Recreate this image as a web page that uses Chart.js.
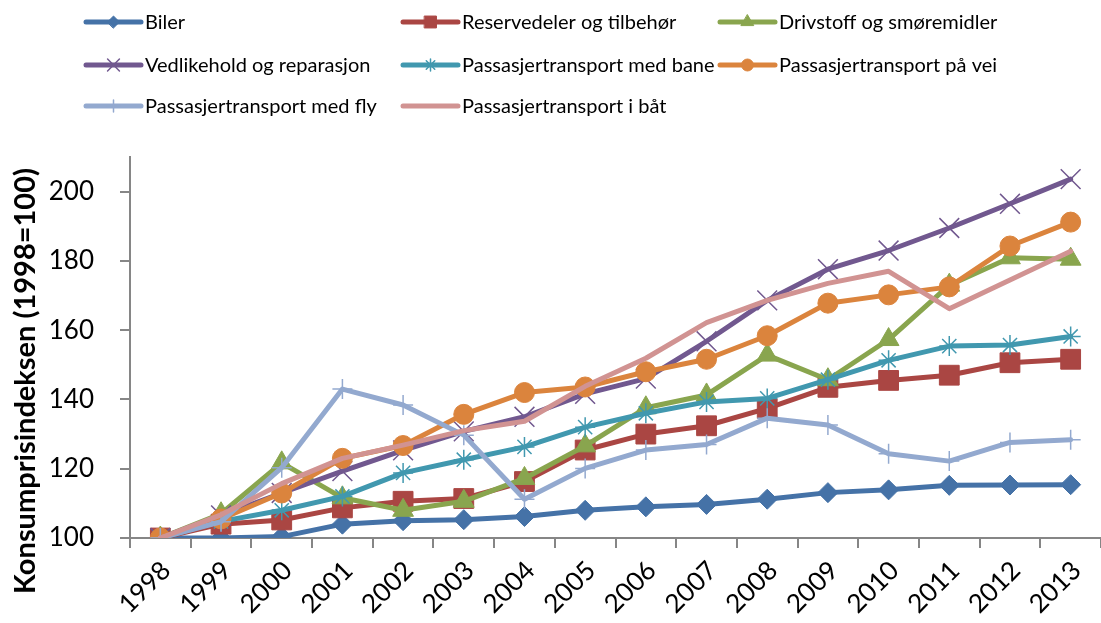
<!DOCTYPE html>
<html>
<head>
<meta charset="utf-8">
<script src="https://cdn.jsdelivr.net/npm/chart.js@4.4.1/dist/chart.umd.min.js"></script>
<style>
  html, body { margin: 0; padding: 0; background: #fff; }
  #wrap { width: 1101px; height: 623px; position: relative; overflow: hidden; }
</style>
</head>
<body>
<div id="wrap"><canvas id="kpiChart" width="1101" height="623"></canvas></div>
<script>
// Categories (years)
const years = ["1998", "1999", "2000", "2001", "2002", "2003", "2004", "2005",
               "2006", "2007", "2008", "2009", "2010", "2011", "2012", "2013"];

// Series values (consumer price index, 1998 = 100)
const biler        = [100, 100, 100.4, 104, 105, 105.3, 106.2, 108, 109, 109.7, 111.2, 113.1, 113.9, 115.2, 115.3, 115.4];
const reservedeler = [100, 104, 105.2, 108.7, 110.6, 111.4, 116.3, 125.4, 130, 132.4, 137.4, 143.5, 145.5, 147, 150.6, 151.6];
const drivstoff    = [100, 107, 121.7, 111.6, 108, 110.6, 117.2, 126.6, 137.6, 141.3, 152.8, 145.7, 157.3, 173, 180.9, 180.5];
const vedlikehold  = [100, 106.5, 113, 119.3, 125.3, 130.8, 135, 141.6, 146, 156.8, 168.6, 177.6, 183, 189.5, 196.5, 203.6];
const bane         = [100, 104.8, 108, 112, 118.8, 122.6, 126.3, 132, 136, 139.3, 140.3, 145.7, 151.3, 155.4, 155.7, 158.2];
const vei          = [100, 105.5, 113, 123, 126.7, 135.7, 142, 143.6, 148, 151.6, 158.4, 167.8, 170.2, 172.5, 184.3, 191.2];
const fly          = [100, 104.7, 120.3, 143, 138.4, 129.7, 111.2, 120.1, 125.4, 127, 134.6, 132.6, 124.3, 122.2, 127.6, 128.4];
const baat         = [100, 106.7, 115.7, 123, 126.8, 131, 133.7, 143.8, 151.9, 162.2, 168.6, 173.5, 177, 166.2, 174.5, 182.8];

const seriesNames = ["Biler", "Reservedeler og tilbehør", "Drivstoff og smøremidler",
  "Vedlikehold og reparasjon", "Passasjertransport med bane", "Passasjertransport på vei",
  "Passasjertransport med fly", "Passasjertransport i båt"];
const seriesData = [biler, reservedeler, drivstoff, vedlikehold, bane, vei, fly, baat];

const yTicks = [100, 120, 140, 160, 180, 200];
const yTitle = "Konsumprisindeksen (1998=100)";

// Styles
const colors  = ["#4572A7", "#AA4643", "#89A54E", "#71588F", "#4198AF", "#DB843D", "#93A9CF", "#D19392"];
const markers = ["rectRot", "rect", "triangle", "crossRot", "star", "circle", "cross", false];
const radii   = [10, 14, 12, 14, 10, 10, 10, 0];
const markerBorder = [1, 1, 1, 1.5, 1.5, 1, 1.5, 0];

const FONT = "Lato, 'Open Sans', sans-serif";
const AXIS_GREY = "#868686";

const datasets = seriesData.map((vals, i) => ({
  label: seriesNames[i],
  data: vals,
  borderColor: colors[i],
  backgroundColor: colors[i],
  borderWidth: 5,
  borderJoinStyle: "round",
  borderCapStyle: "round",
  tension: 0,
  pointStyle: markers[i],
  pointRadius: radii[i],
  pointBorderWidth: markerBorder[i],
  pointBackgroundColor: colors[i],
  pointBorderColor: colors[i],
  // later series on top, like in the original
  order: seriesData.length - i
}));

// Legend in 3 columns + rotated y title, drawn on the canvas
const legendCols = [86, 403, 720];
const legendRows = [22, 65, 106];

const customDecor = {
  id: "customDecor",
  afterDraw(chart) {
    const ctx = chart.ctx;
    ctx.save();
    seriesNames.forEach((name, i) => {
      const x = legendCols[i % 3];
      const y = legendRows[Math.floor(i / 3)];
      ctx.strokeStyle = colors[i];
      ctx.fillStyle = colors[i];
      ctx.lineWidth = 5;
      ctx.lineCap = "round";
      ctx.beginPath();
      ctx.moveTo(x, y);
      ctx.lineTo(x + 55, y);
      ctx.stroke();
      if (markers[i]) {
        ctx.lineWidth = markerBorder[i];
        Chart.helpers.drawPoint(ctx, {
          pointStyle: markers[i],
          radius: radii[i] * 0.6,
          rotation: 0,
          borderWidth: markerBorder[i]
        }, x + 27.5, y);
      }
      ctx.fillStyle = "#000";
      ctx.font = "20px " + FONT;
      ctx.textAlign = "left";
      ctx.textBaseline = "middle";
      ctx.fillText(name, x + 59, y + 1);
    });

    // y axis title
    ctx.translate(26, 381);
    ctx.rotate(-Math.PI / 2);
    ctx.fillStyle = "#000";
    ctx.font = "bold 29px " + FONT;
    ctx.textAlign = "center";
    ctx.textBaseline = "middle";
    ctx.fillText(yTitle, 0, 0);
    ctx.restore();
  }
};

new Chart(document.getElementById("kpiChart"), {
  type: "line",
  data: { labels: years, datasets },
  options: {
    responsive: false,
    animation: false,
    devicePixelRatio: 1,
    layout: { autoPadding: false, padding: { top: 157, left: 0, right: -8, bottom: 0 } },
    plugins: { legend: { display: false }, tooltip: { enabled: false } },
    scales: {
      x: {
        type: "category",
        offset: true,
        afterFit: (s) => {
          s.height = 85;
          s.paddingLeft = 0;
          s.paddingRight = 0;
        },
        grid: {
          offset: true,
          drawOnChartArea: false,
          drawTicks: true,
          tickLength: 10,
          color: AXIS_GREY,
          lineWidth: 2
        },
        border: { color: AXIS_GREY, width: 2 },
        ticks: {
          color: "#000",
          font: { family: FONT, size: 26 },
          minRotation: 45,
          maxRotation: 45,
          autoSkip: false,
          padding: 7,
          labelOffset: 6
        }
      },
      y: {
        min: 100,
        max: 210,
        afterFit: (s) => {
          s.width = 130;
          s.paddingTop = 0;
          s.paddingBottom = 0;
        },
        afterBuildTicks: (s) => {
          s.ticks = yTicks.map(v => ({ value: v }));
        },
        grid: {
          drawOnChartArea: false,
          drawTicks: true,
          tickLength: 10,
          color: AXIS_GREY,
          lineWidth: 2
        },
        border: { color: AXIS_GREY, width: 2 },
        ticks: {
          color: "#000",
          font: { family: FONT, size: 26 },
          padding: 26
        }
      }
    }
  },
  plugins: [customDecor]
});
</script>
</body>
</html>
